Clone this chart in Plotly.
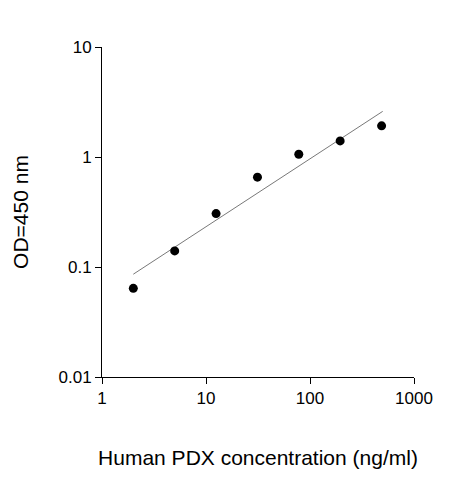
import plotly.graph_objects as go

conc = [2, 5, 12.5, 31.25, 78, 195, 488]
od = [0.064, 0.14, 0.306, 0.656, 1.06, 1.4, 1.92]
fit_x = [2, 500]
fit_y = [0.086, 2.6]

fig = go.Figure()
fig.add_trace(go.Scatter(x=fit_x, y=fit_y, mode="lines", line=dict(color="#555", width=0.8)))
fig.add_trace(go.Scatter(x=conc, y=od, mode="markers", marker=dict(color="black", size=9)))
ax = dict(showgrid=False, zeroline=False, showline=True, linecolor="black", linewidth=1,
          ticks="outside", ticklen=6, tickcolor="black", mirror=False,
          tickfont=dict(family="Liberation Sans, Arial", size=17, color="black"))
fig.update_layout(
    width=463, height=480, showlegend=False, plot_bgcolor="white", paper_bgcolor="white",
    margin=dict(l=89, r=57, t=39, b=111),
    xaxis=dict(type="log", range=[0, 3], tickvals=[1, 10, 100, 1000], ticktext=["1", "10", "100", "1000"],
               title=dict(text="Human PDX concentration (ng/ml)", standoff=42,
                          font=dict(family="Liberation Sans, Arial", size=21, color="black")), **ax),
    yaxis=dict(type="log", range=[-2, 1], tickvals=[0.01, 0.1, 1, 10], ticktext=["0.01", "0.1", "1", "10"],
               title=dict(text="OD=450 nm", standoff=24,
                          font=dict(family="Liberation Sans, Arial", size=21, color="black")), **ax),
)
fig.write_html("out.html")
